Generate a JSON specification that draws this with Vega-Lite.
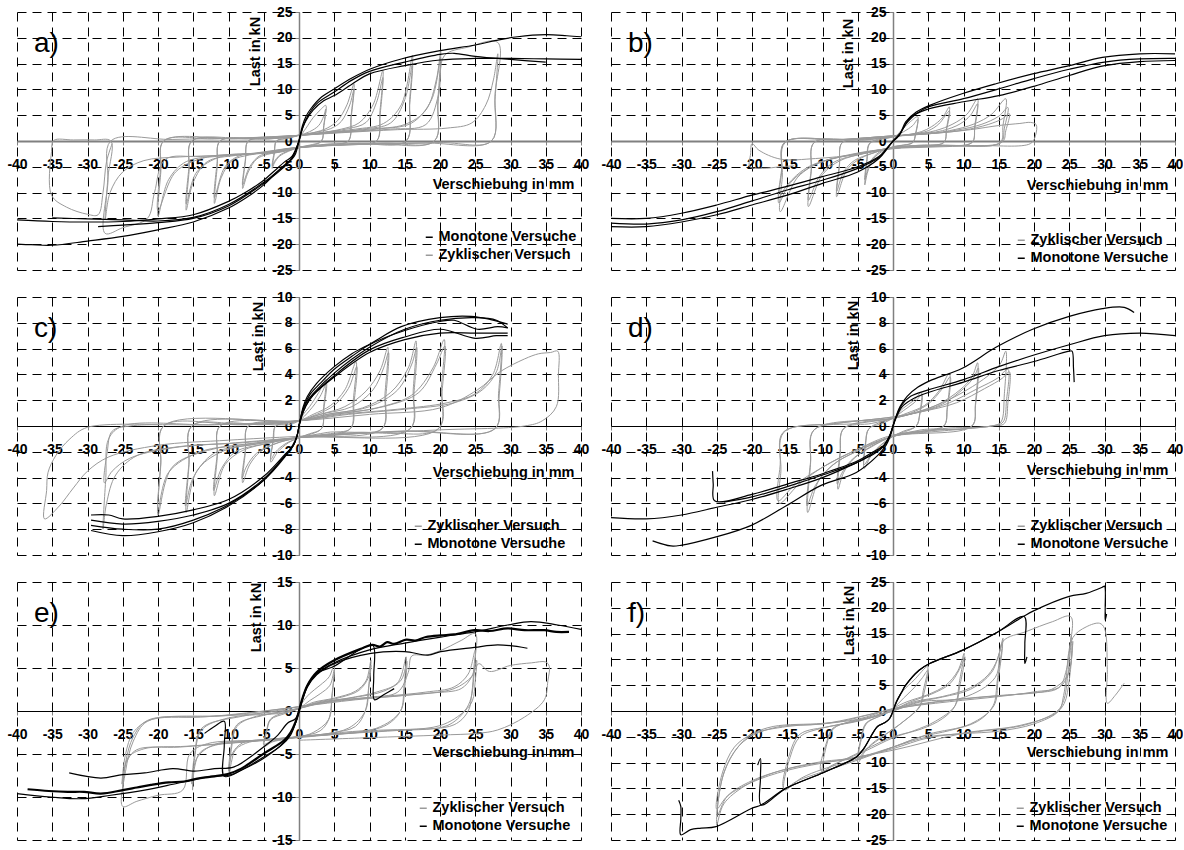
{
"$schema":"https://vega.github.io/schema/vega-lite/v6.json",
"background":"white",
"padding":{"left":6,"top":5,"right":0,"bottom":0},
"config":{
"font":"Liberation Sans",
"view":{"stroke":null},
"axis":{"labelFont":"Liberation Sans","labelFontSize":14,"labelFontWeight":"bold","labelColor":"black","titleFont":"Liberation Sans","titleFontSize":14.5,"titleFontWeight":"bold","titleColor":"black","gridColor":"black","gridDash":[9,6],"gridWidth":1,"gridOpacity":1,"tickColor":"#808080","tickSize":4,"domainColor":"#808080","domainWidth":1.5,"labelOverlap":false,"labelBound":false,"labelFlush":false},
"legend":{"orient":"none","title":null,"labelFont":"Liberation Sans","labelFontSize":14.5,"labelFontWeight":"bold","labelColor":"black","symbolType":"M-1,0H1","symbolSize":49,"symbolStrokeWidth":1.5,"labelOffset":2,"rowPadding":3,"padding":0},
"title":{"anchor":"start","frame":"group","orient":"top","offset":0,"dx":17,"dy":57,"baseline":"alphabetic","fontSize":28,"fontWeight":"normal","font":"Liberation Sans","color":"black"}
},
"datasets":{
"aZ":[{"x":0,"y":0},{"x":0.5,"y":1.5},
{"x":1,"y":2.5},{"x":2,"y":4.5},{"x":3,"y":6},{"x":3.8,"y":6.9},{"x":3.5,"y":3},{"x":3.2,"y":0},{"x":2,"y":-0.8},{"x":0,"y":-1.3},{"x":-1.5,"y":-2},{"x":-2.8,"y":-3},{"x":-3.5,"y":-4.3},{"x":-3.8,"y":-5.3},{"x":-3.5,"y":-2.5},{"x":-3.2,"y":0},{"x":-2,"y":0.5},{"x":0,"y":1.1},
{"x":1.5,"y":1.8},{"x":2.8,"y":3},{"x":3.5,"y":4.8},{"x":3.8,"y":6.2},{"x":3.5,"y":2.5},{"x":3.2,"y":0},{"x":1.5,"y":-0.8},{"x":0,"y":-1.2},{"x":-1.5,"y":-1.9},{"x":-2.8,"y":-2.8},{"x":-3.5,"y":-4},{"x":-3.8,"y":-4.8},{"x":-3.5,"y":-2},{"x":-3.2,"y":0},{"x":-1.5,"y":0.5},{"x":0,"y":1.1},
{"x":2,"y":1.6},{"x":4,"y":2.5},{"x":5.5,"y":4},{"x":6.8,"y":7},{"x":7.8,"y":11.1},{"x":7.4,"y":5},{"x":7,"y":0},{"x":5,"y":-0.6},{"x":2,"y":-0.9},{"x":0,"y":-1.3},{"x":-2,"y":-2},{"x":-4.5,"y":-2.6},{"x":-6,"y":-3.5},{"x":-7.2,"y":-6},{"x":-8,"y":-9.2},{"x":-7.6,"y":-4},{"x":-7.2,"y":0},{"x":-5,"y":0.4},{"x":-2,"y":0.6},{"x":0,"y":1.1},
{"x":2,"y":1.6},{"x":4.5,"y":2.4},{"x":6,"y":3.8},{"x":7.2,"y":7},{"x":7.8,"y":10},{"x":7.4,"y":4.5},{"x":7,"y":0},{"x":4,"y":-0.6},{"x":0,"y":-1.2},{"x":-3,"y":-2.2},{"x":-5.5,"y":-2.8},{"x":-7,"y":-5},{"x":-8,"y":-8.5},{"x":-7.6,"y":-3.5},{"x":-7.2,"y":0},{"x":-4,"y":0.4},{"x":0,"y":1.1},
{"x":3,"y":1.6},{"x":6,"y":2.3},{"x":8.5,"y":3.5},{"x":10.5,"y":7},{"x":11.9,"y":13.7},{"x":11.5,"y":6},{"x":11,"y":0},{"x":8,"y":-0.5},{"x":4,"y":-0.8},{"x":0,"y":-1.3},{"x":-3,"y":-2.1},{"x":-7,"y":-2.7},{"x":-9.5,"y":-3.8},{"x":-11,"y":-7},{"x":-12,"y":-12.1},{"x":-11.6,"y":-5},{"x":-11.2,"y":0},{"x":-7,"y":0.4},{"x":-3,"y":0.6},{"x":0,"y":1.1},
{"x":3,"y":1.6},{"x":7,"y":2.4},{"x":9.5,"y":3.6},{"x":11,"y":7.5},{"x":11.9,"y":12.3},{"x":11.5,"y":5},{"x":11,"y":0},{"x":6,"y":-0.6},{"x":0,"y":-1.2},{"x":-4,"y":-2.2},{"x":-8.5,"y":-2.9},{"x":-10.5,"y":-5},{"x":-12,"y":-11},{"x":-11.6,"y":-4},{"x":-11.2,"y":0},{"x":-5,"y":0.5},{"x":0,"y":1.1},
{"x":4,"y":1.7},{"x":8,"y":2.3},{"x":12,"y":3.4},{"x":14.5,"y":7},{"x":16.1,"y":16.6},{"x":15.7,"y":8},{"x":15.2,"y":0},{"x":10,"y":-0.5},{"x":5,"y":-0.8},{"x":0,"y":-1.3},{"x":-4,"y":-2.2},{"x":-9,"y":-2.8},{"x":-13,"y":-4},{"x":-15,"y":-8},{"x":-16,"y":-13.4},{"x":-15.6,"y":-6},{"x":-15.2,"y":0},{"x":-9,"y":0.4},{"x":-4,"y":0.6},{"x":0,"y":1.1},
{"x":4,"y":1.6},{"x":9,"y":2.3},{"x":13,"y":3.5},{"x":15,"y":8},{"x":16.1,"y":15},{"x":15.7,"y":7},{"x":15.2,"y":0},{"x":8,"y":-0.5},{"x":0,"y":-1.2},{"x":-5,"y":-2.3},{"x":-11,"y":-3},{"x":-14.5,"y":-6},{"x":-16,"y":-12.2},{"x":-15.6,"y":-5},{"x":-15.2,"y":0},{"x":-7,"y":0.5},{"x":0,"y":1.1},
{"x":5,"y":1.7},{"x":10,"y":2.3},{"x":15,"y":3.2},{"x":18,"y":6},{"x":19.5,"y":12},{"x":20.1,"y":17.5},{"x":19.7,"y":8},{"x":19.2,"y":0},{"x":12,"y":-0.4},{"x":5,"y":-0.8},{"x":0,"y":-1.3},{"x":-5,"y":-2.3},{"x":-11,"y":-2.9},{"x":-16,"y":-4},{"x":-18.5,"y":-7.5},{"x":-20,"y":-14.6},{"x":-19.6,"y":-6},{"x":-19.2,"y":0},{"x":-12,"y":0.4},{"x":-5,"y":0.6},{"x":0,"y":1.1},
{"x":5,"y":1.6},{"x":11,"y":2.3},{"x":16,"y":3.5},{"x":18.8,"y":8},{"x":20.1,"y":16.2},{"x":19.7,"y":7},{"x":19.2,"y":0},{"x":10,"y":-0.5},{"x":0,"y":-1.2},{"x":-6,"y":-2.4},{"x":-13,"y":-3.1},{"x":-17.5,"y":-6},{"x":-20,"y":-13.5},{"x":-19.6,"y":-5},{"x":-19.2,"y":0},{"x":-9,"y":0.5},{"x":0,"y":1.1},
{"x":6,"y":1.7},{"x":13,"y":2.3},{"x":18,"y":3.2},{"x":19.8,"y":9},{"x":20.6,"y":16.5},{"x":24,"y":18.2},{"x":28.2,"y":19.1},{"x":27.8,"y":9},{"x":27.3,"y":0},{"x":20,"y":-0.3},{"x":10,"y":-0.6},{"x":0,"y":-1.3},{"x":-6,"y":-2.4},{"x":-14,"y":-3},{"x":-19,"y":-3.6},{"x":-20.5,"y":-10},{"x":-21.5,"y":-15},{"x":-25,"y":-16.8},{"x":-27.5,"y":-17.9},{"x":-27.1,"y":-8},{"x":-26.7,"y":0},{"x":-18,"y":0.3},{"x":-8,"y":0.6},{"x":0,"y":1.1},
{"x":6,"y":1.6},{"x":14,"y":2.2},{"x":21,"y":2.5},{"x":24.5,"y":3.5},{"x":26.5,"y":7},{"x":27.6,"y":12},{"x":28.2,"y":16.9},{"x":27.8,"y":8},{"x":27.3,"y":0},{"x":18,"y":-0.4},{"x":8,"y":-0.7},{"x":0,"y":-1.2},{"x":-8,"y":-2.6},{"x":-17,"y":-3.1},{"x":-22,"y":-3.8},{"x":-25,"y":-6},{"x":-26.8,"y":-10},{"x":-27.5,"y":-15.3},{"x":-27.1,"y":-7},{"x":-26.7,"y":0},
{"x":-29,"y":0.2},{"x":-32,"y":0.2},{"x":-34.8,"y":0.1},{"x":-35.1,"y":-2},{"x":-35.1,"y":-10.5},{"x":-33,"y":-12.8},{"x":-30,"y":-14.2},{"x":-28.5,"y":-14.3},{"x":-27.8,"y":-10},{"x":-27.3,"y":-4},{"x":-26.5,"y":-0.5}],
"aM":[
{"s":1,"x":0,"y":0},{"s":1,"x":0.5,"y":3},{"s":1,"x":1,"y":4.8},{"s":1,"x":1.7,"y":6.3},{"s":1,"x":3,"y":8.3},{"s":1,"x":5,"y":10.1},{"s":1,"x":7.5,"y":12.2},{"s":1,"x":10.2,"y":14},{"s":1,"x":14.5,"y":15.9},{"s":1,"x":20,"y":17.5},{"s":1,"x":25,"y":18.6},{"s":1,"x":28,"y":19.5},{"s":1,"x":31,"y":20.2},{"s":1,"x":35,"y":20.6},{"s":1,"x":38,"y":20.4},{"s":1,"x":40,"y":20.2},
{"s":2,"x":0,"y":0},{"s":2,"x":0.5,"y":2.5},{"s":2,"x":1,"y":4},{"s":2,"x":2,"y":6},{"s":2,"x":3.5,"y":7.8},{"s":2,"x":5,"y":8.8},{"s":2,"x":7.5,"y":11},{"s":2,"x":10,"y":13},{"s":2,"x":15,"y":14.6},{"s":2,"x":20,"y":15.7},{"s":2,"x":25,"y":16},{"s":2,"x":30,"y":16},{"s":2,"x":35,"y":15.9},{"s":2,"x":40,"y":15.8},
{"s":3,"x":0,"y":0},{"s":3,"x":1,"y":4.2},{"s":3,"x":2.5,"y":7.2},{"s":3,"x":5,"y":9.5},{"s":3,"x":7.5,"y":11.8},{"s":3,"x":10,"y":13.5},{"s":3,"x":15,"y":15.3},{"s":3,"x":20,"y":16.8},{"s":3,"x":22,"y":17},{"s":3,"x":25,"y":16.4},{"s":3,"x":30,"y":15.8},{"s":3,"x":35,"y":15.3},
{"s":4,"x":0,"y":0},{"s":4,"x":-0.5,"y":-2.5},{"s":4,"x":-1,"y":-3.5},{"s":4,"x":-2,"y":-4.7},{"s":4,"x":-3.5,"y":-6.5},{"s":4,"x":-5,"y":-8.5},{"s":4,"x":-7.5,"y":-11},{"s":4,"x":-10,"y":-13},{"s":4,"x":-15,"y":-15.7},{"s":4,"x":-20,"y":-17.2},{"s":4,"x":-25,"y":-18.5},{"s":4,"x":-30,"y":-19.4},{"s":4,"x":-35,"y":-20.2},{"s":4,"x":-38,"y":-20.1},{"s":4,"x":-40,"y":-20},
{"s":5,"x":0,"y":0},{"s":5,"x":-1,"y":-3},{"s":5,"x":-2,"y":-4},{"s":5,"x":-3.5,"y":-5.8},{"s":5,"x":-5,"y":-7.6},{"s":5,"x":-7.5,"y":-9.9},{"s":5,"x":-10,"y":-11.7},{"s":5,"x":-15,"y":-14.3},{"s":5,"x":-20,"y":-15.1},{"s":5,"x":-25,"y":-15.6},{"s":5,"x":-30,"y":-15.7},{"s":5,"x":-35,"y":-15.6},{"s":5,"x":-40,"y":-15.3},
{"s":6,"x":0,"y":0},{"s":6,"x":-1,"y":-3.2},{"s":6,"x":-2.5,"y":-5.2},{"s":6,"x":-5,"y":-8},{"s":6,"x":-10,"y":-12.3},{"s":6,"x":-15,"y":-14.8},{"s":6,"x":-20,"y":-15.5},{"s":6,"x":-25,"y":-15.3},{"s":6,"x":-30,"y":-15.1},{"s":6,"x":-35,"y":-14.9},
{"s":7,"x":0,"y":0},{"s":7,"x":-1,"y":-3.4},{"s":7,"x":-2.5,"y":-5.5},{"s":7,"x":-5,"y":-8.2},{"s":7,"x":-10,"y":-12.6},{"s":7,"x":-15,"y":-15},{"s":7,"x":-20,"y":-15.8},{"s":7,"x":-25,"y":-16.3},{"s":7,"x":-28.5,"y":-16.6}],
"bZ":[{"x":0,"y":0},{"x":0.5,"y":1},
{"x":1.5,"y":2.5},{"x":2.5,"y":3.8},{"x":3.5,"y":4.7},{"x":3.2,"y":1.5},{"x":2.8,"y":-0.3},{"x":1.5,"y":-0.8},{"x":0,"y":-1.2},{"x":-1.5,"y":-2},{"x":-2.8,"y":-3.5},{"x":-3.6,"y":-6},{"x":-4,"y":-8.5},{"x":-3.7,"y":-4},{"x":-3.3,"y":-0.5},{"x":-2,"y":0.2},{"x":0,"y":0.8},
{"x":1.5,"y":1.8},{"x":2.8,"y":3},{"x":3.5,"y":4.2},{"x":3.2,"y":1.2},{"x":2.8,"y":-0.3},{"x":0,"y":-1.1},{"x":-2,"y":-2.2},{"x":-3.2,"y":-4},{"x":-4,"y":-7.5},{"x":-3.7,"y":-3.5},{"x":-3.3,"y":-0.4},{"x":0,"y":0.8},
{"x":2,"y":1.2},{"x":4,"y":1.8},{"x":5.5,"y":2.8},{"x":7,"y":4.5},{"x":8,"y":6.6},{"x":7.6,"y":2.5},{"x":7.2,"y":-0.3},{"x":4,"y":-0.8},{"x":0,"y":-1.2},{"x":-2.5,"y":-2.2},{"x":-4.5,"y":-3.3},{"x":-6.5,"y":-5.5},{"x":-8,"y":-10.8},{"x":-7.6,"y":-5},{"x":-7.2,"y":-0.3},{"x":-4,"y":0.2},{"x":0,"y":0.9},
{"x":2.5,"y":1.3},{"x":5,"y":2},{"x":6.5,"y":3.3},{"x":8,"y":5.8},{"x":7.6,"y":2.2},{"x":7.2,"y":-0.3},{"x":3,"y":-0.9},{"x":0,"y":-1.2},{"x":-3,"y":-2.4},{"x":-5.5,"y":-3.8},{"x":-7,"y":-6},{"x":-8,"y":-9.8},{"x":-7.6,"y":-4.5},{"x":-7.2,"y":-0.3},{"x":-3,"y":0.3},{"x":0,"y":0.9},
{"x":3,"y":1.3},{"x":6,"y":2},{"x":8.5,"y":3.3},{"x":10.5,"y":5.2},{"x":12,"y":8.2},{"x":11.6,"y":3},{"x":11.2,"y":-0.3},{"x":6,"y":-0.8},{"x":0,"y":-1.3},{"x":-4,"y":-2.4},{"x":-7.5,"y":-3.8},{"x":-10,"y":-6.5},{"x":-12,"y":-12.7},{"x":-11.6,"y":-6},{"x":-11.2,"y":-0.3},{"x":-6,"y":0.2},{"x":0,"y":0.9},
{"x":3,"y":1.3},{"x":7,"y":2},{"x":9.5,"y":3.3},{"x":11,"y":5},{"x":12,"y":7.2},{"x":11.6,"y":2.5},{"x":11.2,"y":-0.3},{"x":5,"y":-0.9},{"x":0,"y":-1.3},{"x":-4.5,"y":-2.5},{"x":-8.5,"y":-4.2},{"x":-10.5,"y":-7},{"x":-12,"y":-11.5},{"x":-11.6,"y":-5.5},{"x":-11.2,"y":-0.3},{"x":-5,"y":0.3},{"x":0,"y":0.9},
{"x":4,"y":1.3},{"x":8,"y":2},{"x":11.5,"y":3.3},{"x":14,"y":5.2},{"x":16,"y":8.2},{"x":15.6,"y":3},{"x":15.2,"y":-0.3},{"x":8,"y":-0.9},{"x":0,"y":-1.4},{"x":-5,"y":-2.5},{"x":-10,"y":-4},{"x":-13.5,"y":-7},{"x":-16,"y":-13.7},{"x":-15.7,"y":-7},{"x":-15.3,"y":-0.3},{"x":-8,"y":0.2},{"x":0,"y":1},
{"x":5,"y":1.4},{"x":9,"y":2.1},{"x":12.5,"y":3.2},{"x":15,"y":4.8},{"x":16.3,"y":6.5},{"x":15.8,"y":2.5},{"x":15.3,"y":-0.3},{"x":7,"y":-0.9},{"x":0,"y":-1.4},{"x":-6,"y":-2.6},{"x":-11,"y":-4.5},{"x":-14.5,"y":-8},{"x":-16.2,"y":-12},{"x":-15.8,"y":-6},{"x":-15.4,"y":-0.3},{"x":-7,"y":0.3},{"x":0,"y":1},
{"x":5,"y":1.4},{"x":10,"y":2.1},{"x":13.5,"y":3.2},{"x":15.5,"y":4.3},{"x":16.5,"y":5.3},{"x":16,"y":2},{"x":15.5,"y":-0.2},{"x":7,"y":-0.9},{"x":0,"y":-1.4},{"x":-6,"y":-2.7},{"x":-12,"y":-5},{"x":-15,"y":-8.5},{"x":-16.2,"y":-11},{"x":-15.8,"y":-5.5},{"x":-15.4,"y":-0.3},{"x":-7,"y":0.3},{"x":0,"y":1},
{"x":6,"y":1.5},{"x":11,"y":2.2},{"x":15,"y":3},{"x":18,"y":3.4},{"x":19.5,"y":3.6},{"x":20.3,"y":3.2},{"x":20.2,"y":1},{"x":19.5,"y":-0.5},{"x":12,"y":-0.9},{"x":5,"y":-1.2},{"x":0,"y":-1.5},{"x":-5,"y":-2.6},{"x":-11,"y":-3.4},{"x":-16,"y":-3.5},{"x":-19,"y":-1.8},{"x":-20,"y":-0.5},{"x":-20.2,"y":-2.5},{"x":-20.3,"y":-5},{"x":-18.5,"y":-5.3},{"x":-16,"y":-5},{"x":-14,"y":-4.8}],
"bM":[
{"s":1,"x":0,"y":0},{"s":1,"x":0.9,"y":1.1},{"s":1,"x":1.8,"y":3.7},{"s":1,"x":3.3,"y":5.6},{"s":1,"x":5.2,"y":6.9},{"s":1,"x":9.9,"y":9.2},{"s":1,"x":14.6,"y":11.1},{"s":1,"x":19.8,"y":13},{"s":1,"x":25,"y":14.6},{"s":1,"x":29.7,"y":16.2},{"s":1,"x":35,"y":16.9},{"s":1,"x":40,"y":16.9},
{"s":2,"x":0,"y":0},{"s":2,"x":1,"y":1.5},{"s":2,"x":2,"y":3.6},{"s":2,"x":3.3,"y":5.3},{"s":2,"x":5,"y":6.6},{"s":2,"x":10,"y":8.2},{"s":2,"x":15,"y":10.1},{"s":2,"x":20,"y":12.1},{"s":2,"x":25,"y":13.9},{"s":2,"x":30,"y":15.3},{"s":2,"x":35,"y":15.9},{"s":2,"x":40,"y":16},
{"s":3,"x":0,"y":0},{"s":3,"x":1,"y":1.4},{"s":3,"x":2.5,"y":4.6},{"s":3,"x":5,"y":6.2},{"s":3,"x":10,"y":7.6},{"s":3,"x":15,"y":8.8},{"s":3,"x":20,"y":10.6},{"s":3,"x":25,"y":12.7},{"s":3,"x":30,"y":14.6},{"s":3,"x":35,"y":15.4},{"s":3,"x":40,"y":15.6},
{"s":4,"x":0,"y":0},{"s":4,"x":-1,"y":-1.8},{"s":4,"x":-2,"y":-3.4},{"s":4,"x":-5,"y":-6},{"s":4,"x":-10,"y":-8.2},{"s":4,"x":-15,"y":-10.5},{"s":4,"x":-20,"y":-12.4},{"s":4,"x":-25,"y":-14.3},{"s":4,"x":-30,"y":-15.7},{"s":4,"x":-35,"y":-16.6},{"s":4,"x":-40,"y":-16.6},
{"s":5,"x":0,"y":0},{"s":5,"x":-1,"y":-1.7},{"s":5,"x":-2,"y":-3.2},{"s":5,"x":-5,"y":-5.3},{"s":5,"x":-10,"y":-7.6},{"s":5,"x":-15,"y":-9.5},{"s":5,"x":-20,"y":-11.6},{"s":5,"x":-25,"y":-13.7},{"s":5,"x":-30,"y":-15.3},{"s":5,"x":-35,"y":-16.1},{"s":5,"x":-40,"y":-15.9},
{"s":6,"x":0,"y":0},{"s":6,"x":-1,"y":-1.6},{"s":6,"x":-2,"y":-3},{"s":6,"x":-5,"y":-5},{"s":6,"x":-10,"y":-6.9},{"s":6,"x":-15,"y":-8.8},{"s":6,"x":-20,"y":-10.5},{"s":6,"x":-25,"y":-12.4},{"s":6,"x":-30,"y":-14},{"s":6,"x":-35,"y":-15},{"s":6,"x":-40,"y":-15}],
"cZ":[{"x":0,"y":0},{"x":0.5,"y":0.8},
{"x":1.5,"y":1.5},{"x":2.8,"y":2.6},{"x":3.8,"y":3.6},{"x":3.5,"y":1.5},{"x":3.2,"y":-0.2},{"x":1.5,"y":-0.6},{"x":0,"y":-0.9},{"x":-1.5,"y":-1.3},{"x":-3,"y":-2},{"x":-4,"y":-2.8},{"x":-3.7,"y":-1.2},{"x":-3.3,"y":0},{"x":-1.5,"y":0.1},{"x":0,"y":0.4},
{"x":1.5,"y":1.2},{"x":3,"y":2.3},{"x":3.9,"y":3.3},{"x":3.5,"y":1.2},{"x":3.2,"y":-0.2},{"x":0,"y":-0.9},{"x":-2,"y":-1.4},{"x":-3.3,"y":-2},{"x":-4,"y":-2.6},{"x":-3.6,"y":-1},{"x":-3.3,"y":0},{"x":0,"y":0.4},
{"x":2,"y":0.9},{"x":4.5,"y":1.6},{"x":6.5,"y":2.8},{"x":8.1,"y":5},{"x":7.7,"y":2},{"x":7.3,"y":-0.2},{"x":4,"y":-0.5},{"x":0,"y":-0.9},{"x":-3,"y":-1.3},{"x":-5.5,"y":-2},{"x":-7,"y":-3},{"x":-8,"y":-4.4},{"x":-7.6,"y":-2},{"x":-7.2,"y":0},{"x":-3,"y":0.1},{"x":0,"y":0.4},
{"x":2.5,"y":0.9},{"x":5,"y":1.6},{"x":7,"y":2.9},{"x":8.2,"y":4.6},{"x":7.8,"y":1.8},{"x":7.3,"y":-0.2},{"x":0,"y":-0.9},{"x":-3.5,"y":-1.4},{"x":-6,"y":-2.1},{"x":-7.5,"y":-3.2},{"x":-8.1,"y":-4.1},{"x":-7.6,"y":-1.8},{"x":-7.2,"y":0},{"x":0,"y":0.4},
{"x":3,"y":0.9},{"x":6.5,"y":1.5},{"x":9.5,"y":2.7},{"x":11.5,"y":4.3},{"x":12.6,"y":6.1},{"x":12.2,"y":2.5},{"x":11.8,"y":-0.2},{"x":6,"y":-0.5},{"x":0,"y":-0.9},{"x":-4,"y":-1.3},{"x":-8,"y":-1.9},{"x":-10.5,"y":-3},{"x":-12,"y":-5.4},{"x":-11.6,"y":-2.5},{"x":-11.2,"y":0},{"x":-5,"y":0.1},{"x":0,"y":0.4},
{"x":3,"y":0.9},{"x":7.5,"y":1.5},{"x":10.5,"y":2.8},{"x":12,"y":4.5},{"x":12.7,"y":5.7},{"x":12.3,"y":2.2},{"x":11.8,"y":-0.2},{"x":0,"y":-0.9},{"x":-5,"y":-1.4},{"x":-9,"y":-2},{"x":-11,"y":-3.3},{"x":-12.1,"y":-5},{"x":-11.6,"y":-2.2},{"x":-11.2,"y":0},{"x":0,"y":0.4},
{"x":4,"y":0.9},{"x":9,"y":1.4},{"x":13,"y":2.6},{"x":15.5,"y":4.5},{"x":16.6,"y":6.6},{"x":16.2,"y":2.8},{"x":15.8,"y":-0.2},{"x":8,"y":-0.5},{"x":0,"y":-0.9},{"x":-5,"y":-1.3},{"x":-11,"y":-2},{"x":-14.5,"y":-3.5},{"x":-16,"y":-6.7},{"x":-15.6,"y":-3},{"x":-15.2,"y":0},{"x":-7,"y":0.1},{"x":0,"y":0.4},
{"x":4,"y":0.9},{"x":10,"y":1.5},{"x":14,"y":2.8},{"x":16,"y":4.8},{"x":16.7,"y":6.1},{"x":16.3,"y":2.5},{"x":15.8,"y":-0.2},{"x":0,"y":-0.9},{"x":-6,"y":-1.4},{"x":-12,"y":-2.1},{"x":-15,"y":-4},{"x":-16.1,"y":-6.2},{"x":-15.6,"y":-2.8},{"x":-15.2,"y":0},{"x":0,"y":0.4},
{"x":5,"y":0.9},{"x":11,"y":1.4},{"x":16,"y":2.4},{"x":19,"y":4.5},{"x":20.6,"y":6.7},{"x":20.2,"y":3},{"x":19.8,"y":-0.2},{"x":10,"y":-0.5},{"x":0,"y":-0.9},{"x":-6,"y":-1.3},{"x":-13,"y":-1.9},{"x":-18,"y":-3.2},{"x":-20,"y":-6.9},{"x":-19.6,"y":-3},{"x":-19.2,"y":0},{"x":-8,"y":0.1},{"x":0,"y":0.4},
{"x":5,"y":0.9},{"x":12,"y":1.5},{"x":17,"y":2.6},{"x":19.5,"y":4.8},{"x":20.7,"y":6.2},{"x":20.3,"y":2.7},{"x":19.8,"y":-0.2},{"x":0,"y":-0.9},{"x":-7,"y":-1.4},{"x":-14,"y":-2},{"x":-18.5,"y":-3.6},{"x":-20,"y":-6.5},{"x":-19.6,"y":-2.8},{"x":-19.2,"y":0},{"x":0,"y":0.4},
{"x":6,"y":0.9},{"x":14,"y":1.3},{"x":21,"y":1.8},{"x":25,"y":2.5},{"x":27.5,"y":4},{"x":28.7,"y":6.4},{"x":28.3,"y":2.5},{"x":27.8,"y":-0.2},{"x":15,"y":-0.4},{"x":0,"y":-0.9},{"x":-8,"y":-1.3},{"x":-17,"y":-1.6},{"x":-23,"y":-2.3},{"x":-26,"y":-3.8},{"x":-27.3,"y":-6},{"x":-27.8,"y":-8},{"x":-27.4,"y":-4},{"x":-27,"y":-1},{"x":-25,"y":0},{"x":-12,"y":0.1},{"x":0,"y":0.4},
{"x":7,"y":0.9},{"x":15,"y":1.3},{"x":22,"y":1.8},{"x":26,"y":2.8},{"x":28,"y":4.2},{"x":28.8,"y":6.2},{"x":28.4,"y":2.4},{"x":27.8,"y":-0.2},{"x":14,"y":-0.4},{"x":0,"y":-0.9},{"x":-9,"y":-1.3},{"x":-18,"y":-1.7},{"x":-24,"y":-2.5},{"x":-26.5,"y":-3.5},{"x":-27.6,"y":-4.4},{"x":-27.2,"y":-2},{"x":-26.5,"y":-0.4},{"x":-24,"y":0},{"x":-12,"y":0.1},{"x":0,"y":0.4},
{"x":10,"y":0.9},{"x":20,"y":1.4},{"x":25.3,"y":2.8},{"x":28.5,"y":4.2},{"x":32,"y":5.2},{"x":34,"y":5.6},{"x":35.7,"y":5.7},{"x":36.7,"y":5.8},{"x":36.8,"y":4},{"x":36.5,"y":1.5},{"x":34.5,"y":0.4},{"x":32,"y":0},{"x":20,"y":-0.3},{"x":0,"y":-0.8},{"x":-10,"y":-1.1},{"x":-20,"y":-1.5},{"x":-27,"y":-2.4},{"x":-30,"y":-3.5},{"x":-32,"y":-4.8},{"x":-34,"y":-6.2},{"x":-36.1,"y":-7.2},{"x":-35.8,"y":-5},{"x":-35.6,"y":-3.6},{"x":-34.5,"y":-2.3},{"x":-32.5,"y":-1},{"x":-30,"y":-0.1},{"x":-20,"y":0.1}],
"cM":[
{"s":1,"x":0,"y":0},{"s":1,"x":0.3,"y":0.8},{"s":1,"x":0.6,"y":1.5},{"s":1,"x":1.2,"y":2.3},{"s":1,"x":2.5,"y":3.3},{"s":1,"x":5,"y":4.6},{"s":1,"x":7.5,"y":5.6},{"s":1,"x":10.2,"y":6.4},{"s":1,"x":14.5,"y":7.7},{"s":1,"x":20,"y":8.4},{"s":1,"x":24.4,"y":8.5},{"s":1,"x":27.2,"y":8.25},{"s":1,"x":29.6,"y":7.9},
{"s":2,"x":0,"y":0},{"s":2,"x":0.3,"y":0.7},{"s":2,"x":0.7,"y":1.5},{"s":2,"x":1.5,"y":2.4},{"s":2,"x":3,"y":3.3},{"s":2,"x":5,"y":4.4},{"s":2,"x":7.5,"y":5.4},{"s":2,"x":10,"y":6.3},{"s":2,"x":15,"y":7.4},{"s":2,"x":20,"y":8.1},{"s":2,"x":22,"y":8.2},{"s":2,"x":25.3,"y":7.5},{"s":2,"x":28.2,"y":7.7},{"s":2,"x":29.6,"y":7.6},
{"s":3,"x":0,"y":0},{"s":3,"x":0.4,"y":0.8},{"s":3,"x":1,"y":1.6},{"s":3,"x":2,"y":2.4},{"s":3,"x":5,"y":3.9},{"s":3,"x":10,"y":5.9},{"s":3,"x":15,"y":6.9},{"s":3,"x":20,"y":7.5},{"s":3,"x":25,"y":6.8},{"s":3,"x":28,"y":7},{"s":3,"x":29.6,"y":7},
{"s":4,"x":0,"y":0},{"s":4,"x":0.4,"y":0.8},{"s":4,"x":1,"y":1.6},{"s":4,"x":2,"y":2.4},{"s":4,"x":5,"y":3.8},{"s":4,"x":10,"y":5.7},{"s":4,"x":15,"y":6.7},{"s":4,"x":20,"y":7.2},{"s":4,"x":25,"y":7.2},{"s":4,"x":29.6,"y":7.2},
{"s":5,"x":0,"y":0},{"s":5,"x":0.3,"y":0.8},{"s":5,"x":0.8,"y":1.6},{"s":5,"x":2,"y":2.5},{"s":5,"x":5,"y":4.1},{"s":5,"x":10,"y":6.1},{"s":5,"x":15,"y":7.5},{"s":5,"x":20,"y":8.2},{"s":5,"x":25,"y":8.4},{"s":5,"x":28,"y":8.2},{"s":5,"x":29.6,"y":7.6},
{"s":6,"x":0,"y":0},{"s":6,"x":-0.3,"y":-0.8},{"s":6,"x":-0.8,"y":-1.5},{"s":6,"x":-2,"y":-2.3},{"s":6,"x":-5,"y":-4.2},{"s":6,"x":-10,"y":-6.2},{"s":6,"x":-15,"y":-7.5},{"s":6,"x":-20,"y":-8.2},{"s":6,"x":-25,"y":-8.5},{"s":6,"x":-29.5,"y":-8.1},
{"s":7,"x":0,"y":0},{"s":7,"x":-0.3,"y":-0.8},{"s":7,"x":-0.8,"y":-1.5},{"s":7,"x":-2,"y":-2.2},{"s":7,"x":-5,"y":-3.9},{"s":7,"x":-10,"y":-5.7},{"s":7,"x":-15,"y":-6.5},{"s":7,"x":-20,"y":-7},{"s":7,"x":-25,"y":-7.2},{"s":7,"x":-27,"y":-6.9},{"s":7,"x":-29.5,"y":-6.9},
{"s":8,"x":0,"y":0},{"s":8,"x":-0.3,"y":-0.8},{"s":8,"x":-0.8,"y":-1.5},{"s":8,"x":-2,"y":-2.3},{"s":8,"x":-5,"y":-4.1},{"s":8,"x":-10,"y":-6},{"s":8,"x":-15,"y":-6.9},{"s":8,"x":-20,"y":-7.4},{"s":8,"x":-25,"y":-7.6},{"s":8,"x":-29.5,"y":-7.3},
{"s":9,"x":0,"y":0},{"s":9,"x":-0.3,"y":-0.8},{"s":9,"x":-0.9,"y":-1.5},{"s":9,"x":-2,"y":-2.4},{"s":9,"x":-5,"y":-4.2},{"s":9,"x":-10,"y":-6.1},{"s":9,"x":-15,"y":-7.3},{"s":9,"x":-20,"y":-8},{"s":9,"x":-25,"y":-8},{"s":9,"x":-29.5,"y":-7.7}],
"dZ":[{"x":0,"y":0},{"x":0.5,"y":0.8},
{"x":1.5,"y":1.4},{"x":3,"y":2},{"x":4,"y":2.6},{"x":3.8,"y":1},{"x":3.3,"y":0},{"x":1.5,"y":-0.4},{"x":0,"y":-0.8},{"x":-1.5,"y":-1.4},{"x":-3,"y":-2.2},{"x":-4.1,"y":-3.3},{"x":-3.9,"y":-1.5},{"x":-3.4,"y":-0.2},{"x":-1.5,"y":0.2},{"x":0,"y":0.6},
{"x":1.5,"y":1.2},{"x":3,"y":1.8},{"x":4.1,"y":2.4},{"x":3.8,"y":0.9},{"x":3.3,"y":0},{"x":0,"y":-0.8},{"x":-2,"y":-1.6},{"x":-3.3,"y":-2.4},{"x":-4.1,"y":-3},{"x":-3.9,"y":-1.3},{"x":-3.4,"y":-0.2},{"x":0,"y":0.6},
{"x":2,"y":1},{"x":4.5,"y":1.6},{"x":6.5,"y":2.7},{"x":8,"y":4.1},{"x":7.7,"y":1.5},{"x":7.2,"y":0},{"x":4,"y":-0.3},{"x":0,"y":-0.8},{"x":-3,"y":-1.6},{"x":-5.5,"y":-2.5},{"x":-7,"y":-3.6},{"x":-7.8,"y":-4.9},{"x":-7.5,"y":-2.3},{"x":-7,"y":-0.2},{"x":-3,"y":0.2},{"x":0,"y":0.6},
{"x":2.5,"y":1},{"x":5,"y":1.7},{"x":7,"y":2.9},{"x":8.1,"y":3.8},{"x":7.7,"y":1.3},{"x":7.2,"y":0},{"x":0,"y":-0.8},{"x":-3.5,"y":-1.7},{"x":-6,"y":-2.7},{"x":-7.3,"y":-3.7},{"x":-7.9,"y":-4.5},{"x":-7.5,"y":-2},{"x":-7,"y":-0.2},{"x":0,"y":0.6},
{"x":3,"y":1},{"x":6.5,"y":1.7},{"x":9.5,"y":2.8},{"x":11.2,"y":3.8},{"x":12,"y":4.9},{"x":11.7,"y":1.8},{"x":11.2,"y":0},{"x":6,"y":-0.3},{"x":0,"y":-0.8},{"x":-4,"y":-1.7},{"x":-8,"y":-2.8},{"x":-10.5,"y":-4.2},{"x":-12.1,"y":-6.7},{"x":-11.7,"y":-3},{"x":-11.2,"y":-0.3},{"x":-5,"y":0.2},{"x":0,"y":0.6},
{"x":3,"y":1},{"x":7,"y":1.7},{"x":10,"y":2.9},{"x":11.5,"y":3.8},{"x":12.1,"y":4.5},{"x":11.7,"y":1.6},{"x":11.2,"y":0},{"x":0,"y":-0.8},{"x":-4.5,"y":-1.8},{"x":-8.5,"y":-3},{"x":-11,"y":-4.6},{"x":-12.2,"y":-6.2},{"x":-11.7,"y":-2.8},{"x":-11.2,"y":-0.3},{"x":0,"y":0.6},
{"x":3.5,"y":1.1},{"x":7,"y":1.8},{"x":10.5,"y":2.8},{"x":13.5,"y":3.9},{"x":15.2,"y":4.8},{"x":16,"y":5.8},{"x":15.8,"y":2.5},{"x":15.3,"y":0.3},{"x":14,"y":0},{"x":7,"y":-0.2},{"x":0,"y":-0.8},{"x":-5,"y":-1.8},{"x":-10,"y":-3.2},{"x":-13.5,"y":-4.6},{"x":-16.1,"y":-6},{"x":-15.9,"y":-3.5},{"x":-15.5,"y":-0.5},{"x":-8,"y":0.2},{"x":0,"y":0.7},
{"x":4,"y":1.1},{"x":8,"y":1.8},{"x":12,"y":2.9},{"x":14.8,"y":3.7},{"x":16.3,"y":4.4},{"x":16.1,"y":2},{"x":15.6,"y":0.3},{"x":14,"y":0},{"x":0,"y":-0.7},{"x":-5,"y":-1.8},{"x":-10,"y":-3.2},{"x":-14,"y":-4.6},{"x":-16.3,"y":-5.8},{"x":-16,"y":-3},{"x":-15.6,"y":-0.5},{"x":-8,"y":0.2},{"x":0,"y":0.7},
{"x":4,"y":1.1},{"x":9,"y":1.8},{"x":13,"y":2.9},{"x":15.5,"y":3.7},{"x":16.5,"y":4.2},{"x":16.3,"y":1.8},{"x":15.8,"y":0.2},{"x":14,"y":0},{"x":0,"y":-0.7}],
"dM":[
{"s":1,"x":0,"y":0},{"s":1,"x":0.4,"y":0.7},{"s":1,"x":1,"y":1.5},{"s":1,"x":2,"y":2.3},{"s":1,"x":3.5,"y":3},{"s":1,"x":5.2,"y":3.5},{"s":1,"x":9.9,"y":4.5},{"s":1,"x":14.6,"y":6.1},{"s":1,"x":19.8,"y":7.5},{"s":1,"x":25,"y":8.5},{"s":1,"x":29.7,"y":9.1},{"s":1,"x":32.8,"y":9.2},{"s":1,"x":34.2,"y":8.8},
{"s":2,"x":0,"y":0},{"s":2,"x":0.5,"y":0.8},{"s":2,"x":1.2,"y":1.6},{"s":2,"x":2.5,"y":2.3},{"s":2,"x":5,"y":2.8},{"s":2,"x":10,"y":3.6},{"s":2,"x":15,"y":4.6},{"s":2,"x":20,"y":5.5},{"s":2,"x":25,"y":6.3},{"s":2,"x":30,"y":7},{"s":2,"x":35,"y":7.2},{"s":2,"x":40,"y":7},
{"s":3,"x":0,"y":0},{"s":3,"x":0.5,"y":0.7},{"s":3,"x":1.3,"y":1.5},{"s":3,"x":2.8,"y":2.1},{"s":3,"x":5,"y":2.6},{"s":3,"x":10,"y":3.4},{"s":3,"x":15,"y":4.3},{"s":3,"x":20,"y":5},{"s":3,"x":25,"y":5.8},{"s":3,"x":25.4,"y":5.8},{"s":3,"x":25.6,"y":4.5},{"s":3,"x":25.7,"y":3.4},
{"s":4,"x":0,"y":0},{"s":4,"x":-0.4,"y":-0.8},{"s":4,"x":-1,"y":-1.5},{"s":4,"x":-2.2,"y":-2.3},{"s":4,"x":-5.2,"y":-3.6},{"s":4,"x":-10.2,"y":-4.6},{"s":4,"x":-15.2,"y":-6.2},{"s":4,"x":-20.1,"y":-7.7},{"s":4,"x":-25.1,"y":-8.6},{"s":4,"x":-30.1,"y":-9.25},{"s":4,"x":-31.5,"y":-9.3},{"s":4,"x":-34.1,"y":-8.9},
{"s":5,"x":0,"y":0},{"s":5,"x":-0.5,"y":-0.8},{"s":5,"x":-1.2,"y":-1.5},{"s":5,"x":-2.5,"y":-2.1},{"s":5,"x":-5,"y":-2.8},{"s":5,"x":-10,"y":-4},{"s":5,"x":-15,"y":-4.9},{"s":5,"x":-20,"y":-5.7},{"s":5,"x":-25,"y":-6.3},{"s":5,"x":-30,"y":-6.9},{"s":5,"x":-35,"y":-7.2},{"s":5,"x":-40,"y":-7.1},
{"s":6,"x":0,"y":0},{"s":6,"x":-0.5,"y":-0.8},{"s":6,"x":-1.3,"y":-1.5},{"s":6,"x":-2.8,"y":-2},{"s":6,"x":-5,"y":-2.7},{"s":6,"x":-10,"y":-3.7},{"s":6,"x":-15,"y":-4.5},{"s":6,"x":-20,"y":-5.3},{"s":6,"x":-25.3,"y":-5.8},{"s":6,"x":-25.5,"y":-4.5},{"s":6,"x":-25.6,"y":-3.5},
{"s":7,"x":0,"y":0},{"s":7,"x":-0.5,"y":-0.8},{"s":7,"x":-1.3,"y":-1.5},{"s":7,"x":-2.8,"y":-2.1},{"s":7,"x":-5,"y":-2.8},{"s":7,"x":-10,"y":-3.8},{"s":7,"x":-15,"y":-4.7},{"s":7,"x":-20,"y":-5.5},{"s":7,"x":-24,"y":-5.9}],
"eZ":[{"x":0,"y":0},{"x":0.5,"y":1},
{"x":1.5,"y":2},{"x":3,"y":3},{"x":4.3,"y":4},{"x":5,"y":5.5},{"x":4.7,"y":2},{"x":4.2,"y":-1},{"x":3,"y":-2.3},{"x":0,"y":-3},{"x":-2,"y":-3.3},{"x":-3.8,"y":-3.6},{"x":-4.9,"y":-4.1},{"x":-4.6,"y":-2.5},{"x":-4,"y":-1},{"x":-2,"y":-0.3},{"x":0,"y":0.3},
{"x":1.5,"y":1.2},{"x":3,"y":2},{"x":4.4,"y":3},{"x":5,"y":4.8},{"x":4.7,"y":1.8},{"x":4.2,"y":-1},{"x":2,"y":-2.5},{"x":0,"y":-3},{"x":-2.5,"y":-3.3},{"x":-4.2,"y":-3.6},{"x":-5,"y":-3.9},{"x":-4.6,"y":-2.3},{"x":-4,"y":-0.9},{"x":0,"y":0.3},
{"x":2,"y":1},{"x":5,"y":1.5},{"x":8,"y":2.3},{"x":9.5,"y":3.5},{"x":10.2,"y":5.9},{"x":9.9,"y":3},{"x":9.4,"y":0},{"x":8,"y":-1.8},{"x":5,"y":-2.5},{"x":0,"y":-3},{"x":-3,"y":-3.3},{"x":-7,"y":-3.6},{"x":-9,"y":-4.5},{"x":-9.6,"y":-6},{"x":-9.9,"y":-7.6},{"x":-9.6,"y":-4.5},{"x":-8.8,"y":-1.8},{"x":-6,"y":-0.6},{"x":-2,"y":-0.2},{"x":0,"y":0.3},
{"x":2.5,"y":1},{"x":6,"y":1.6},{"x":8.5,"y":2.4},{"x":9.8,"y":3.8},{"x":10.2,"y":5.3},{"x":9.9,"y":2.7},{"x":9.4,"y":0},{"x":7,"y":-2},{"x":0,"y":-3},{"x":-4,"y":-3.3},{"x":-8,"y":-3.7},{"x":-9.5,"y":-5},{"x":-10,"y":-7},{"x":-9.6,"y":-4},{"x":-8.8,"y":-1.6},{"x":-5,"y":-0.5},{"x":0,"y":0.3},
{"x":3,"y":1},{"x":7,"y":1.5},{"x":11,"y":2.2},{"x":14,"y":3.3},{"x":15.2,"y":6.3},{"x":14.9,"y":3},{"x":14.4,"y":0},{"x":12,"y":-1.8},{"x":6,"y":-2.5},{"x":0,"y":-3},{"x":-5,"y":-3.4},{"x":-11,"y":-3.8},{"x":-14,"y":-4.8},{"x":-14.8,"y":-6.5},{"x":-15.1,"y":-9.2},{"x":-14.8,"y":-5.5},{"x":-13.8,"y":-2.2},{"x":-10,"y":-0.8},{"x":-4,"y":-0.3},{"x":0,"y":0.3},
{"x":3,"y":1},{"x":8,"y":1.6},{"x":12,"y":2.3},{"x":14.5,"y":3.6},{"x":15.3,"y":5.8},{"x":15,"y":2.8},{"x":14.4,"y":0},{"x":11,"y":-2},{"x":0,"y":-3},{"x":-6,"y":-3.4},{"x":-12,"y":-3.9},{"x":-14.5,"y":-5.5},{"x":-15.2,"y":-8.5},{"x":-14.8,"y":-5},{"x":-13.8,"y":-2},{"x":-8,"y":-0.6},{"x":0,"y":0.3},
{"x":4,"y":1.1},{"x":10,"y":1.6},{"x":14,"y":2.2},{"x":15.5,"y":4.5},{"x":16,"y":6.4},{"x":18,"y":6.5},{"x":20,"y":7},{"x":23,"y":8.2},{"x":25,"y":9},{"x":24.8,"y":5},{"x":24.5,"y":2},{"x":24,"y":0},{"x":22,"y":-1.6},{"x":15,"y":-2.2},{"x":5,"y":-2.7},{"x":0,"y":-3},{"x":-6,"y":-3.4},{"x":-13,"y":-3.8},{"x":-15.5,"y":-5},{"x":-16.5,"y":-9.2},{"x":-20,"y":-9.8},{"x":-23,"y":-10.5},{"x":-25,"y":-11.1},{"x":-24.6,"y":-7},{"x":-23.5,"y":-3.5},{"x":-21.5,"y":-1.2},{"x":-14,"y":-0.7},{"x":-6,"y":-0.3},{"x":0,"y":0.5},
{"x":5,"y":1.2},{"x":12,"y":1.7},{"x":18,"y":2.2},{"x":22,"y":2.8},{"x":24,"y":4.3},{"x":25,"y":7.1},{"x":24.8,"y":4},{"x":24.4,"y":1.5},{"x":23.5,"y":0},{"x":21,"y":-1.7},{"x":12,"y":-2.3},{"x":0,"y":-3},{"x":-8,"y":-3.6},{"x":-16,"y":-4.1},{"x":-22,"y":-4.4},{"x":-24.3,"y":-5.5},{"x":-25,"y":-9.5},{"x":-24.6,"y":-6},{"x":-23.5,"y":-3},{"x":-21.5,"y":-1.1},{"x":-12,"y":-0.6},{"x":0,"y":0.5},
{"x":6,"y":1.2},{"x":13,"y":1.7},{"x":19,"y":2.1},{"x":23,"y":2.6},{"x":24.5,"y":4},{"x":25.2,"y":5.9},{"x":25,"y":3.5},{"x":24.6,"y":1.2},{"x":23.5,"y":0},{"x":20,"y":-1.7},{"x":10,"y":-2.3},{"x":0,"y":-3.1},{"x":-9,"y":-3.7},{"x":-17,"y":-4.2},{"x":-23,"y":-4.5},{"x":-24.5,"y":-6},{"x":-25.1,"y":-8.5},{"x":-24.6,"y":-5},{"x":-23.5,"y":-2.5},{"x":-21,"y":-1},{"x":-10,"y":-0.5},{"x":0,"y":0.5},
{"x":8,"y":1.3},{"x":16,"y":1.9},{"x":22,"y":2.6},{"x":24.5,"y":4},{"x":25.5,"y":5.5},{"x":27,"y":4.6},{"x":30,"y":5.3},{"x":33,"y":5.6},{"x":35,"y":5.7},{"x":35.5,"y":5.2},{"x":35.3,"y":3.5},{"x":34.8,"y":1.3},{"x":32,"y":-0.7},{"x":28.2,"y":-2.2},{"x":25.3,"y":-2.6},{"x":20,"y":-2.8},{"x":10,"y":-3.1},{"x":0,"y":-3.4}],
"eM":[
{"s":2,"x":0,"y":0},{"s":2,"x":0.5,"y":1.4},{"s":2,"x":1.2,"y":2.9},{"s":2,"x":2.5,"y":4.3},{"s":2,"x":5,"y":5.6},{"s":2,"x":10,"y":7.1},{"s":2,"x":15,"y":7.9},{"s":2,"x":20.1,"y":8.6},{"s":2,"x":24.9,"y":9.2},{"s":2,"x":29.6,"y":10},{"s":2,"x":32.9,"y":10.4},{"s":2,"x":36.7,"y":10},{"s":2,"x":40,"y":9.5},
{"s":3,"x":0,"y":0},{"s":3,"x":0.5,"y":1.3},{"s":3,"x":1.2,"y":2.8},{"s":3,"x":2.5,"y":4.2},{"s":3,"x":5,"y":5.5},{"s":3,"x":10.2,"y":6.7},{"s":3,"x":15,"y":6.9},{"s":3,"x":18.3,"y":6.5},{"s":3,"x":20.1,"y":6.9},{"s":3,"x":24.9,"y":7.4},{"s":3,"x":28.2,"y":7.7},{"s":3,"x":32.4,"y":7.3},
{"s":4,"x":0,"y":0},{"s":4,"x":0.5,"y":1.5},{"s":4,"x":1.2,"y":3},{"s":4,"x":2.5,"y":4.4},{"s":4,"x":5,"y":5.2},{"s":4,"x":9,"y":7.3},{"s":4,"x":10.5,"y":7.6},{"s":4,"x":10.6,"y":4},{"s":4,"x":10.7,"y":1.3},{"s":4,"x":12,"y":1.9},{"s":4,"x":13.5,"y":2.6},
{"s":6,"x":0,"y":0},{"s":6,"x":-0.5,"y":-1.4},{"s":6,"x":-1.2,"y":-2.8},{"s":6,"x":-2.5,"y":-4},{"s":6,"x":-4.9,"y":-5.3},{"s":6,"x":-9.6,"y":-7.4},{"s":6,"x":-12.5,"y":-7.6},{"s":6,"x":-17.2,"y":-8.4},{"s":6,"x":-21.9,"y":-9.2},{"s":6,"x":-26.7,"y":-9.8},{"s":6,"x":-30.9,"y":-10.2},{"s":6,"x":-35.2,"y":-10},{"s":6,"x":-40,"y":-9.6},
{"s":7,"x":0,"y":0},{"s":7,"x":-0.5,"y":-0.9},{"s":7,"x":-1.6,"y":-1.4},{"s":7,"x":-3,"y":-2.8},{"s":7,"x":-4.9,"y":-4.1},{"s":7,"x":-9.2,"y":-6.5},{"s":7,"x":-12,"y":-6.7},{"s":7,"x":-14.8,"y":-7},{"s":7,"x":-17.9,"y":-6.7},{"s":7,"x":-21.9,"y":-7.2},{"s":7,"x":-25,"y":-7.4},{"s":7,"x":-28.1,"y":-7.8},{"s":7,"x":-32.6,"y":-7.2},
{"s":8,"x":0,"y":0},{"s":8,"x":-0.6,"y":-1.6},{"s":8,"x":-2,"y":-3.5},{"s":8,"x":-5,"y":-5.5},{"s":8,"x":-8,"y":-6.8},{"s":8,"x":-10.6,"y":-7.6},{"s":8,"x":-10.6,"y":-4},{"s":8,"x":-10.6,"y":-1.2},{"s":8,"x":-12,"y":-1.8},{"s":8,"x":-13.4,"y":-2.6}],
"eN":[
{"s":1,"x":0,"y":0},{"s":1,"x":0.5,"y":1.5},{"s":1,"x":1.2,"y":3},{"s":1,"x":2.5,"y":4.5},{"s":1,"x":5,"y":5.9},{"s":1,"x":9,"y":7.3},{"s":1,"x":10.4,"y":7.7},{"s":1,"x":11.5,"y":7.5},{"s":1,"x":12.5,"y":8},{"s":1,"x":13.5,"y":7.8},{"s":1,"x":15.2,"y":8.3},{"s":1,"x":16.5,"y":8.2},{"s":1,"x":18,"y":8.6},{"s":1,"x":20.1,"y":8.8},{"s":1,"x":22,"y":8.9},{"s":1,"x":24.9,"y":9.4},{"s":1,"x":27,"y":9.3},{"s":1,"x":29.6,"y":9.6},{"s":1,"x":32,"y":9.4},{"s":1,"x":34.8,"y":9.4},{"s":1,"x":36.5,"y":9.2},{"s":1,"x":38.3,"y":9.2},
{"s":5,"x":0,"y":0},{"s":5,"x":-0.5,"y":-1.3},{"s":5,"x":-1.2,"y":-2.5},{"s":5,"x":-2.1,"y":-3.4},{"s":5,"x":-4.9,"y":-4.9},{"s":5,"x":-8.2,"y":-6.7},{"s":5,"x":-10,"y":-7.3},{"s":5,"x":-12,"y":-7.6},{"s":5,"x":-14,"y":-7.8},{"s":5,"x":-16.3,"y":-8.2},{"s":5,"x":-18.5,"y":-8.3},{"s":5,"x":-21,"y":-8.6},{"s":5,"x":-23,"y":-8.9},{"s":5,"x":-25,"y":-9.2},{"s":5,"x":-28.1,"y":-9.6},{"s":5,"x":-30.5,"y":-9.4},{"s":5,"x":-32.8,"y":-9.4},{"s":5,"x":-35.5,"y":-9.3},{"s":5,"x":-38.5,"y":-9.1}],
"fZ":[{"x":0,"y":0},{"x":0.5,"y":2},
{"x":1.5,"y":4},{"x":3,"y":6},{"x":4.9,"y":8.6},{"x":4.3,"y":4},{"x":3.8,"y":1},{"x":2,"y":-1.5},{"x":0,"y":-3.5},{"x":-2,"y":-5.5},{"x":-3.8,"y":-7.5},{"x":-5,"y":-10.1},{"x":-4.5,"y":-5.5},{"x":-3.8,"y":-2.5},{"x":-2,"y":-1},{"x":0,"y":0.5},
{"x":1.5,"y":2.5},{"x":3,"y":4.5},{"x":4.2,"y":6.5},{"x":5,"y":8},{"x":4.4,"y":3.5},{"x":3.8,"y":0.8},{"x":1.5,"y":-2},{"x":0,"y":-3.6},{"x":-2.5,"y":-5.8},{"x":-4.2,"y":-8},{"x":-5,"y":-9.5},{"x":-4.5,"y":-5},{"x":-3.8,"y":-2.3},{"x":-1.5,"y":-0.8},{"x":0,"y":0.5},
{"x":2,"y":1.8},{"x":5,"y":3.2},{"x":7.5,"y":5},{"x":9.2,"y":7.8},{"x":10.1,"y":11.2},{"x":9.4,"y":5.5},{"x":8.8,"y":1},{"x":7,"y":-1.5},{"x":4,"y":-3.5},{"x":0,"y":-5},{"x":-4,"y":-7.5},{"x":-7,"y":-9.5},{"x":-9,"y":-10.8},{"x":-10,"y":-12.1},{"x":-9.4,"y":-6.5},{"x":-8.5,"y":-3.5},{"x":-6,"y":-2},{"x":-3,"y":-1.2},{"x":0,"y":0.2},
{"x":2.5,"y":1.8},{"x":5.5,"y":3.3},{"x":8,"y":5.2},{"x":9.4,"y":8},{"x":10.2,"y":10.5},{"x":9.5,"y":5},{"x":8.8,"y":1},{"x":6,"y":-2},{"x":3,"y":-3.8},{"x":0,"y":-5.2},{"x":-4,"y":-7.8},{"x":-7.5,"y":-9.8},{"x":-10.2,"y":-11.6},{"x":-9.4,"y":-6},{"x":-8.5,"y":-3.3},{"x":-5,"y":-1.8},{"x":0,"y":0.2},
{"x":3,"y":1.8},{"x":7,"y":2.8},{"x":11,"y":4.5},{"x":13.5,"y":7},{"x":14.8,"y":10},{"x":15.6,"y":14.1},{"x":14.8,"y":6},{"x":14.2,"y":1},{"x":12,"y":-2},{"x":8,"y":-3.8},{"x":4,"y":-5},{"x":0,"y":-7},{"x":-5,"y":-9.3},{"x":-10,"y":-11.3},{"x":-13,"y":-13},{"x":-15.4,"y":-15.3},{"x":-14.6,"y":-9},{"x":-13.2,"y":-5},{"x":-10,"y":-3.3},{"x":-5,"y":-2},{"x":0,"y":0},
{"x":3,"y":1.6},{"x":7,"y":2.7},{"x":11,"y":4.2},{"x":14,"y":7.5},{"x":15.5,"y":13},{"x":14.9,"y":6},{"x":14.3,"y":1},{"x":11,"y":-2.5},{"x":5,"y":-4.5},{"x":0,"y":-7},{"x":-5,"y":-9.5},{"x":-10,"y":-11.8},{"x":-13.5,"y":-13.5},{"x":-15.5,"y":-15},{"x":-14.7,"y":-8.5},{"x":-13.2,"y":-4.5},{"x":-9,"y":-3},{"x":-4,"y":-1.6},{"x":0,"y":0},
{"x":4,"y":1.8},{"x":10,"y":2.6},{"x":14.5,"y":6.5},{"x":15.6,"y":13.5},{"x":18.9,"y":15.4},{"x":22.6,"y":17.3},{"x":25.2,"y":18.3},{"x":24.8,"y":10},{"x":24.2,"y":3},{"x":23.5,"y":0},{"x":20,"y":-2.5},{"x":15,"y":-3.9},{"x":10,"y":-4.4},{"x":5,"y":-5},{"x":0,"y":-7},{"x":-5,"y":-9},{"x":-10,"y":-9.8},{"x":-15,"y":-11.2},{"x":-20,"y":-13.5},{"x":-23.5,"y":-16.5},{"x":-24.9,"y":-20.2},{"x":-24,"y":-12},{"x":-22,"y":-7},{"x":-20,"y":-4.5},{"x":-17,"y":-3},{"x":-10,"y":-2.4},{"x":-5,"y":-1.6},{"x":0,"y":0.5},
{"x":5,"y":1.6},{"x":10,"y":2.4},{"x":15,"y":3},{"x":20,"y":3.5},{"x":23.5,"y":4.5},{"x":24.6,"y":8},{"x":25.3,"y":14.7},{"x":24.8,"y":7},{"x":24.2,"y":2},{"x":23.3,"y":0},{"x":19,"y":-2.6},{"x":12,"y":-4},{"x":5,"y":-5.2},{"x":0,"y":-7.3},{"x":-6,"y":-9.3},{"x":-12,"y":-10.4},{"x":-17,"y":-12},{"x":-21,"y":-14.5},{"x":-24,"y":-18},{"x":-25,"y":-22.1},{"x":-24.2,"y":-13},{"x":-22.3,"y":-7.5},{"x":-20,"y":-4.8},{"x":-16,"y":-3},{"x":-10,"y":-2.5},{"x":0,"y":0.3},
{"x":6,"y":1.7},{"x":12,"y":2.6},{"x":18,"y":3.3},{"x":22.5,"y":4.2},{"x":24.8,"y":7},{"x":25.5,"y":13.5},{"x":25,"y":6},{"x":24.3,"y":1.5},{"x":23,"y":-0.5},{"x":18,"y":-2.8},{"x":10,"y":-4.3},{"x":0,"y":-7.6},{"x":-8,"y":-9.6},{"x":-15,"y":-11.5},{"x":-20,"y":-13.8},{"x":-23.5,"y":-16.5},{"x":-25,"y":-19},{"x":-24.2,"y":-12},{"x":-22.5,"y":-7},{"x":-20,"y":-4.5},{"x":-15,"y":-3},{"x":-8,"y":-2.2},{"x":0,"y":0.4},
{"x":8,"y":1.8},{"x":15,"y":2.8},{"x":20,"y":3.7},{"x":23.8,"y":4.8},{"x":25.2,"y":9},{"x":25.5,"y":14.2},{"x":27.4,"y":16.3},{"x":29.3,"y":17},{"x":30,"y":16},{"x":30.4,"y":8},{"x":30.4,"y":1.5},{"x":31.5,"y":3},{"x":32.8,"y":5.4}],
"fM":[
{"s":1,"x":0,"y":0},{"s":1,"x":0.5,"y":1.8},{"s":1,"x":1.2,"y":3.6},{"s":1,"x":1.8,"y":5},{"s":1,"x":3.7,"y":7.9},{"s":1,"x":5.2,"y":9.2},{"s":1,"x":9.9,"y":11.8},{"s":1,"x":14.6,"y":15.1},{"s":1,"x":18.6,"y":18.3},{"s":1,"x":18.7,"y":13},{"s":1,"x":18.7,"y":9.2},{"s":1,"x":19,"y":10.5},
{"s":2,"x":0,"y":0},{"s":2,"x":0.5,"y":1.8},{"s":2,"x":1.2,"y":3.6},{"s":2,"x":1.8,"y":5},{"s":2,"x":3.7,"y":7.9},{"s":2,"x":5.2,"y":9.2},{"s":2,"x":9.9,"y":11.8},{"s":2,"x":14.6,"y":15.1},{"s":2,"x":18.6,"y":18.4},{"s":2,"x":19.8,"y":19.3},{"s":2,"x":25,"y":22.2},{"s":2,"x":27.4,"y":22.8},{"s":2,"x":29.7,"y":24},{"s":2,"x":30,"y":24.2},{"s":2,"x":30.1,"y":20},{"s":2,"x":30.1,"y":17.6},{"s":2,"x":30.3,"y":18.8},
{"s":3,"x":0,"y":0},{"s":3,"x":-0.5,"y":-1.5},{"s":3,"x":-1.2,"y":-2.3},{"s":3,"x":-2.2,"y":-3},{"s":3,"x":-4.1,"y":-7.2},{"s":3,"x":-5.2,"y":-8.9},{"s":3,"x":-10.2,"y":-12.1},{"s":3,"x":-15.2,"y":-15},{"s":3,"x":-18.7,"y":-18.2},{"s":3,"x":-18.8,"y":-13},{"s":3,"x":-18.8,"y":-9.2},{"s":3,"x":-19.2,"y":-10.5},
{"s":4,"x":0,"y":0},{"s":4,"x":-0.5,"y":-1.5},{"s":4,"x":-1.2,"y":-2.3},{"s":4,"x":-2.2,"y":-3},{"s":4,"x":-4.1,"y":-7.2},{"s":4,"x":-5.2,"y":-8.9},{"s":4,"x":-10.2,"y":-12.1},{"s":4,"x":-15.2,"y":-15},{"s":4,"x":-18.7,"y":-18.2},{"s":4,"x":-20.1,"y":-18.9},{"s":4,"x":-25.1,"y":-22.4},{"s":4,"x":-27.2,"y":-22.7},{"s":4,"x":-28.7,"y":-23},{"s":4,"x":-30.1,"y":-24},{"s":4,"x":-30.1,"y":-21},{"s":4,"x":-30.1,"y":-18.5},{"s":4,"x":-30.4,"y":-17.3}]
},
"columns":2,
"spacing":{"row":27,"column":30},
"bounds":"flush",
"resolve":{"scale":{"x":"independent","y":"independent","color":"independent"},"legend":{"color":"independent"}},
"concat":[
{"width":564,"height":258,"title":{"text":"a)"},
"encoding":{
"x":{"field":"x","type":"quantitative","scale":{"domain":[-40,40],"nice":false,"zero":false},"axis":{"values":[-40,-35,-30,-25,-20,-15,-10,-5,0,5,10,15,20,25,30,35,40],"orient":"bottom","offset":-129,"grid":true,"labelOverlap":false,"title":"Verschiebung in mm","titleX":557,"titleY":43,"titleAlign":"right","titleBaseline":"middle","labelPadding":12,"labelExpr":"'' + datum.value","domainColor":"#808080","domainWidth":2}},
"y":{"field":"y","type":"quantitative","scale":{"domain":[-25,25],"nice":false,"zero":false},"axis":{"values":[-25,-20,-15,-10,-5,0,5,10,15,20,25],"orient":"left","offset":-282,"grid":true,"labelOverlap":false,"title":"Last in kN","titleX":-44,"titleY":39,"titleAngle":270,"titleAlign":"center","titleBaseline":"middle","labelPadding":3,"labelExpr":"'' + datum.value"}}},
"layer":[
{"data":{"name":"aZ"},"mark":{"type":"line","strokeWidth":1,"interpolate":"catmull-rom"},
"encoding":{"color":{"datum":"Zyklischer Versuch","type":"nominal","scale":{"domain":["Monotone Versuche","Zyklischer Versuch"],"range":["#000000","#9a9a9a"]},"legend":{"legendX":405,"legendY":218}},"order":{"value":null}}},
{"data":{"name":"aM"},"mark":{"type":"line","strokeWidth":1.2,"interpolate":"catmull-rom"},
"encoding":{"color":{"datum":"Monotone Versuche","type":"nominal"},"detail":{"field":"s"},"order":{"value":null}}}
]},
{"width":564,"height":258,"title":{"text":"b)"},
"encoding":{
"x":{"field":"x","type":"quantitative","scale":{"domain":[-40,40],"nice":false,"zero":false},"axis":{"values":[-40,-35,-30,-25,-20,-15,-10,-5,0,5,10,15,20,25,30,35,40],"orient":"bottom","offset":-129,"grid":true,"labelOverlap":false,"title":"Verschiebung in mm","titleX":557,"titleY":44,"titleAlign":"right","titleBaseline":"middle","labelPadding":12,"labelExpr":"'' + datum.value","domainColor":"#808080","domainWidth":2}},
"y":{"field":"y","type":"quantitative","scale":{"domain":[-25,25],"nice":false,"zero":false},"axis":{"values":[-25,-20,-15,-10,-5,0,5,10,15,20,25],"orient":"left","offset":-282,"grid":true,"labelOverlap":false,"title":"Last in kN","titleX":-45,"titleY":41,"titleAngle":270,"titleAlign":"center","titleBaseline":"middle","labelPadding":3,"labelExpr":"'' + datum.value"}}},
"layer":[
{"data":{"name":"bZ"},"mark":{"type":"line","strokeWidth":1,"interpolate":"catmull-rom"},
"encoding":{"color":{"datum":"Zyklischer Versuch","type":"nominal","scale":{"domain":["Zyklischer Versuch","Monotone Versuche"],"range":["#9a9a9a","#000000"]},"legend":{"legendX":403,"legendY":221}},"order":{"value":null}}},
{"data":{"name":"bM"},"mark":{"type":"line","strokeWidth":1.2,"interpolate":"catmull-rom"},
"encoding":{"color":{"datum":"Monotone Versuche","type":"nominal"},"detail":{"field":"s"},"order":{"value":null}}}
]},
{"width":564,"height":258,"title":{"text":"c)"},
"encoding":{
"x":{"field":"x","type":"quantitative","scale":{"domain":[-40,40],"nice":false,"zero":false},"axis":{"values":[-40,-35,-30,-25,-20,-15,-10,-5,0,5,10,15,20,25,30,35,40],"orient":"bottom","offset":-129,"grid":true,"labelOverlap":false,"title":"Verschiebung in mm","titleX":557,"titleY":46,"titleAlign":"right","titleBaseline":"middle","labelPadding":12,"labelExpr":"'' + datum.value","domainColor":"#000000","domainWidth":1.2}},
"y":{"field":"y","type":"quantitative","scale":{"domain":[-10,10],"nice":false,"zero":false},"axis":{"values":[-10,-8,-6,-4,-2,0,2,4,6,8,10],"orient":"left","offset":-282,"grid":true,"labelOverlap":false,"title":"Last in kN","titleX":-41,"titleY":39,"titleAngle":270,"titleAlign":"center","titleBaseline":"middle","labelPadding":3,"labelExpr":"'' + datum.value"}}},
"layer":[
{"data":{"name":"cZ"},"mark":{"type":"line","strokeWidth":1,"interpolate":"catmull-rom"},
"encoding":{"color":{"datum":"Zyklischer Versuch","type":"nominal","scale":{"domain":["Zyklischer Versuch","Monotone Versuche"],"range":["#9a9a9a","#000000"]},"legend":{"legendX":394,"legendY":222}},"order":{"value":null}}},
{"data":{"name":"cM"},"mark":{"type":"line","strokeWidth":1.2,"interpolate":"catmull-rom"},
"encoding":{"color":{"datum":"Monotone Versuche","type":"nominal"},"detail":{"field":"s"},"order":{"value":null}}}
]},
{"width":564,"height":258,"title":{"text":"d)"},
"encoding":{
"x":{"field":"x","type":"quantitative","scale":{"domain":[-40,40],"nice":false,"zero":false},"axis":{"values":[-40,-35,-30,-25,-20,-15,-10,-5,0,5,10,15,20,25,30,35,40],"orient":"bottom","offset":-129,"grid":true,"labelOverlap":false,"title":"Verschiebung in mm","titleX":557,"titleY":44,"titleAlign":"right","titleBaseline":"middle","labelPadding":12,"labelExpr":"'' + datum.value","domainColor":"#000000","domainWidth":1.2}},
"y":{"field":"y","type":"quantitative","scale":{"domain":[-10,10],"nice":false,"zero":false},"axis":{"values":[-10,-8,-6,-4,-2,0,2,4,6,8,10],"orient":"left","offset":-282,"grid":true,"labelOverlap":false,"title":"Last in kN","titleX":-40,"titleY":38,"titleAngle":270,"titleAlign":"center","titleBaseline":"middle","labelPadding":3,"labelExpr":"'' + datum.value"}}},
"layer":[
{"data":{"name":"dZ"},"mark":{"type":"line","strokeWidth":1,"interpolate":"catmull-rom"},
"encoding":{"color":{"datum":"Zyklischer Versuch","type":"nominal","scale":{"domain":["Zyklischer Versuch","Monotone Versuche"],"range":["#9a9a9a","#000000"]},"legend":{"legendX":403,"legendY":222}},"order":{"value":null}}},
{"data":{"name":"dM"},"mark":{"type":"line","strokeWidth":1.2,"interpolate":"catmull-rom"},
"encoding":{"color":{"datum":"Monotone Versuche","type":"nominal"},"detail":{"field":"s"},"order":{"value":null}}}
]},
{"width":564,"height":258,"title":{"text":"e)"},
"encoding":{
"x":{"field":"x","type":"quantitative","scale":{"domain":[-40,40],"nice":false,"zero":false},"axis":{"values":[-40,-35,-30,-25,-20,-15,-10,-5,0,5,10,15,20,25,30,35,40],"orient":"bottom","offset":-129,"grid":true,"labelOverlap":false,"title":"Verschiebung in mm","titleX":557,"titleY":41,"titleAlign":"right","titleBaseline":"middle","labelPadding":12,"labelExpr":"'' + datum.value","domainColor":"#000000","domainWidth":1.2}},
"y":{"field":"y","type":"quantitative","scale":{"domain":[-15,15],"nice":false,"zero":false},"axis":{"values":[-15,-10,-5,0,5,10,15],"orient":"left","offset":-282,"grid":true,"labelOverlap":false,"title":"Last in kN","titleX":-43,"titleY":35,"titleAngle":270,"titleAlign":"center","titleBaseline":"middle","labelPadding":3,"labelExpr":"'' + datum.value"}}},
"layer":[
{"data":{"name":"eZ"},"mark":{"type":"line","strokeWidth":1,"interpolate":"catmull-rom"},
"encoding":{"color":{"datum":"Zyklischer Versuch","type":"nominal","scale":{"domain":["Zyklischer Versuch","Monotone Versuche"],"range":["#9a9a9a","#000000"]},"legend":{"legendX":399,"legendY":219}},"order":{"value":null}}},
{"data":{"name":"eM"},"mark":{"type":"line","strokeWidth":1.2,"interpolate":"catmull-rom"},
"encoding":{"color":{"datum":"Monotone Versuche","type":"nominal"},"detail":{"field":"s"},"order":{"value":null}}},
{"data":{"name":"eN"},"mark":{"type":"line","strokeWidth":2.2,"interpolate":"catmull-rom"},
"encoding":{"color":{"datum":"Monotone Versuche","type":"nominal"},"detail":{"field":"s"},"order":{"value":null}}}
]},
{"width":564,"height":258,"title":{"text":"f)"},
"encoding":{
"x":{"field":"x","type":"quantitative","scale":{"domain":[-40,40],"nice":false,"zero":false},"axis":{"values":[-40,-35,-30,-25,-20,-15,-10,-5,0,5,10,15,20,25,30,35,40],"orient":"bottom","offset":-129,"grid":true,"labelOverlap":false,"title":"Verschiebung in mm","titleX":557,"titleY":41,"titleAlign":"right","titleBaseline":"middle","labelPadding":12,"labelExpr":"'' + datum.value","domainColor":"#000000","domainWidth":1.2}},
"y":{"field":"y","type":"quantitative","scale":{"domain":[-25,25],"nice":false,"zero":false},"axis":{"values":[-25,-20,-15,-10,-5,0,5,10,15,20,25],"orient":"left","offset":-282,"grid":true,"labelOverlap":false,"title":"Last in kN","titleX":-44,"titleY":38,"titleAngle":270,"titleAlign":"center","titleBaseline":"middle","labelPadding":3,"labelExpr":"'' + datum.value"}}},
"layer":[
{"data":{"name":"fZ"},"mark":{"type":"line","strokeWidth":1,"interpolate":"catmull-rom"},
"encoding":{"color":{"datum":"Zyklischer Versuch","type":"nominal","scale":{"domain":["Zyklischer Versuch","Monotone Versuche"],"range":["#9a9a9a","#000000"]},"legend":{"legendX":402,"legendY":219}},"order":{"value":null}}},
{"data":{"name":"fM"},"mark":{"type":"line","strokeWidth":1.2,"interpolate":"catmull-rom"},
"encoding":{"color":{"datum":"Monotone Versuche","type":"nominal"},"detail":{"field":"s"},"order":{"value":null}}}
]}
]
}
